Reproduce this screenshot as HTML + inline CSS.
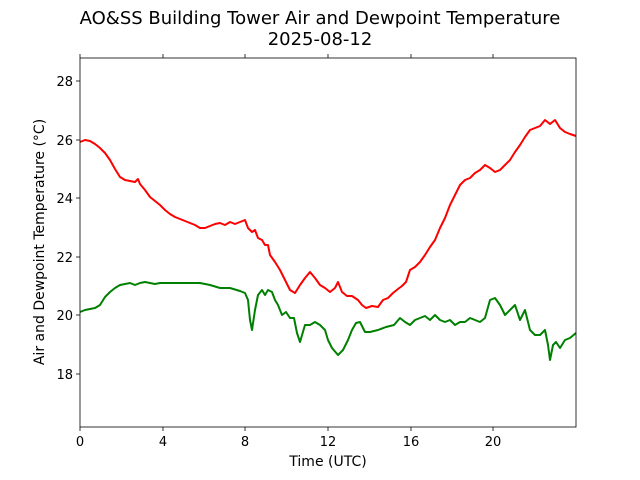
<!DOCTYPE html>
<html><head><meta charset="utf-8"><style>body{margin:0;background:#fff}svg{display:block}text{font-family:"DejaVu Sans","Liberation Sans",sans-serif;fill:#000}</style></head><body>
<svg width="640" height="480" viewBox="0 0 640 480">
<text x="320" y="24" font-size="18" text-anchor="middle">AO&amp;SS Building Tower Air and Dewpoint Temperature</text>
<text x="320" y="45" font-size="18" text-anchor="middle">2025-08-12</text>
<g stroke="#000" stroke-width="0.8">
<line x1="80" y1="427" x2="80" y2="431"/><line x1="163" y1="427" x2="163" y2="431"/><line x1="245" y1="427" x2="245" y2="431"/><line x1="328" y1="427" x2="328" y2="431"/><line x1="411" y1="427" x2="411" y2="431"/><line x1="493" y1="427" x2="493" y2="431"/>
<line x1="80" y1="58" x2="80" y2="54"/><line x1="163" y1="58" x2="163" y2="54"/><line x1="245" y1="58" x2="245" y2="54"/><line x1="328" y1="58" x2="328" y2="54"/><line x1="411" y1="58" x2="411" y2="54"/><line x1="493" y1="58" x2="493" y2="54"/>
<line x1="76" y1="81" x2="80" y2="81"/><line x1="76" y1="140" x2="80" y2="140"/><line x1="76" y1="198" x2="80" y2="198"/><line x1="76" y1="257" x2="80" y2="257"/><line x1="76" y1="315" x2="80" y2="315"/><line x1="76" y1="374" x2="80" y2="374"/>
</g>
<g font-size="13" text-anchor="middle">
<text x="80" y="446">0</text><text x="163" y="446">4</text><text x="245" y="446">8</text><text x="328" y="446">12</text><text x="411" y="446">16</text><text x="493" y="446">20</text>
<text x="328" y="466" font-size="14">Time (UTC)</text>
</g>
<g font-size="13" text-anchor="end">
<text x="73" y="86">28</text><text x="73" y="145">26</text><text x="73" y="203">24</text><text x="73" y="262">22</text><text x="73" y="320">20</text><text x="73" y="379">18</text>
</g>
<text transform="translate(44,242) rotate(-90)" font-size="14" text-anchor="middle">Air and Dewpoint Temperature (°C)</text>
<polyline fill="none" stroke="#ff0000" stroke-width="2" stroke-linejoin="round" points="80,142 85,140 90,141 95,144 100,148 105,153 110,160 115,169 120,177 125,180 130,181 135,182 138,179 140,184 145,190 150,197 155,201 160,205 165,210 170,214 175,217 180,219 185,221 190,223 195,225 200,228 205,228 210,226 215,224 220,223 225,225 230,222 235,224 240,222 245,220 248,228 252,232 255,230 258,238 262,240 265,245 268,245 270,255 275,262 280,270 285,280 290,290 295,293 300,285 305,278 310,272 315,278 320,285 325,288 330,292 335,288 338,282 342,292 347,296 352,296 358,300 362,305 366,308 372,306 378,307 383,300 388,298 393,293 398,289 402,286 406,282 410,270 415,267 420,262 425,255 430,247 435,240 440,228 445,218 450,205 455,195 460,185 465,180 470,178 475,173 480,170 485,165 490,168 495,172 500,170 505,165 510,160 515,152 520,145 525,137 530,130 535,128 540,126 545,120 550,124 555,120 560,128 565,132 570,134 576,136"/>
<polyline fill="none" stroke="#008000" stroke-width="2" stroke-linejoin="round" points="80,312 85,310 90,309 95,308 100,305 105,297 110,292 115,288 120,285 125,284 130,283 135,285 140,283 145,282 150,283 155,284 160,283 170,283 180,283 190,283 200,283 210,285 220,288 230,288 240,291 245,293 248,300 250,320 252,330 255,310 258,295 262,290 265,295 268,290 272,292 275,300 278,305 282,315 286,312 290,318 294,318 297,333 300,342 305,325 310,325 315,322 320,325 325,330 328,340 332,348 338,355 343,350 348,340 352,330 356,323 360,322 365,332 370,332 378,330 386,327 394,325 400,318 405,322 410,325 415,320 420,318 425,316 430,320 435,315 440,320 445,322 450,320 455,325 460,322 465,322 470,318 475,320 480,322 485,318 490,300 495,298 500,305 505,315 510,310 515,305 520,320 525,310 530,330 535,335 540,335 545,330 548,345 550,360 553,345 556,342 560,348 565,340 570,338 576,333"/>
<rect x="80" y="58" width="496" height="369" fill="none" stroke="#000" stroke-width="0.8"/>
</svg>
</body></html>
